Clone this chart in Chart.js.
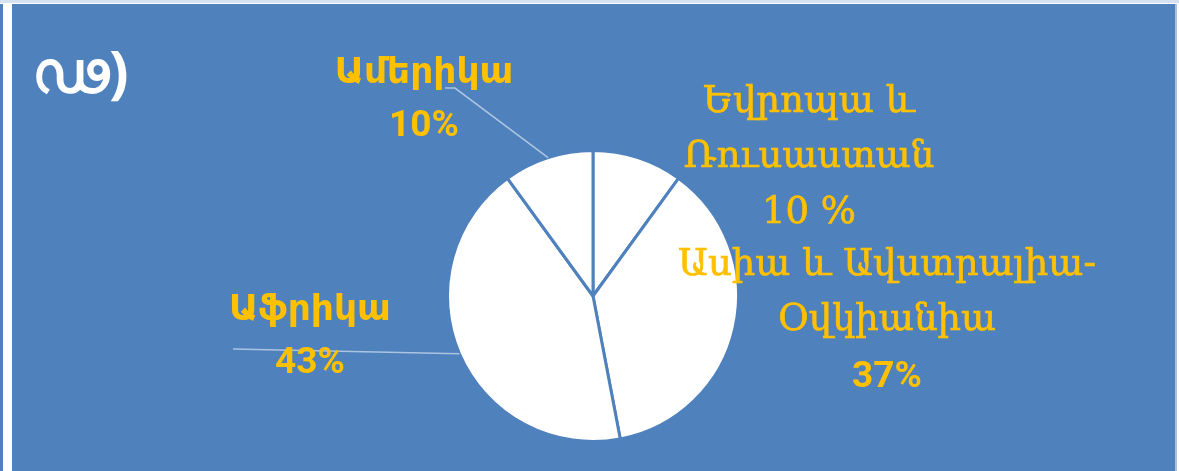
<!DOCTYPE html>
<html>
<head>
<meta charset="utf-8">
<script src="https://cdn.jsdelivr.net/npm/chart.js@4/dist/chart.umd.min.js"></script>
<style>
  html, body { margin: 0; padding: 0; background: #fff; overflow: hidden; }
</style>
</head>
<body>
<canvas id="pie" width="1179" height="471"></canvas>
<script>
// աշխարհամասերի բաժինները (տոկոս)
const categories = ['Եվրոպա և Ռուսաստան', 'Ասիա և Ավստրալիա-Օվկիանիա', 'Աֆրիկա', 'Ամերիկա'];
const shares = [10, 37, 43, 10];
const shareLabels = ['10 %', '37%', '43%', '10%'];
const nameLines = [['Եվրոպա և', 'Ռուսաստան'], ['Ասիա և Ավստրալիա-', 'Օվկիանիա'], ['Աֆրիկա'], ['Ամերիկա']];
const panelTitle = 'ഢ)';

const BLUE = '#4F81BD';
const GOLD = '#FFC000';
const SERIF = '37px "DejaVu Serif", serif';
const BOLD = 'bold 36px "DejaVu Sans", sans-serif';
const NUM = 'bold 37px Roboto, "DejaVu Sans", sans-serif';

// where each label sits; leader = start of the thin line going to the slice
const labelLayout = [
  { x: 809, base: [112, 167, 223], font: [SERIF, SERIF, SERIF], leader: null },
  { x: 887, base: [275, 330, 387], font: [SERIF, SERIF, NUM], leader: null },
  { x: 310, base: [320, 373], font: [BOLD, NUM], leader: [233, 349] },
  { x: 424, base: [83, 136], font: [BOLD, NUM], leader: [445, 88], elbow: 10 },
];

const framePlugin = {
  id: 'frame',
  beforeDraw(chart) {
    const ctx = chart.ctx;
    ctx.save();
    ctx.fillStyle = '#ffffff';
    ctx.fillRect(0, 0, chart.width, chart.height);
    ctx.fillStyle = '#D6E2F1';
    ctx.fillRect(0, 0, chart.width, 3);
    ctx.fillStyle = BLUE;
    ctx.fillRect(0, 4, 3, chart.height);
    ctx.fillRect(12, 4, 1163, chart.height);
    ctx.fillStyle = '#A9C2E2';
    ctx.fillRect(1175, 4, 2, chart.height);
    // title
    ctx.fillStyle = '#ffffff';
    ctx.font = 'bold 58px "Noto Sans", "DejaVu Sans", sans-serif';
    ctx.textBaseline = 'alphabetic';
    ctx.textAlign = 'left';
    ctx.fillText(panelTitle, 32, 92);
    ctx.restore();
  },
};

const labelPlugin = {
  id: 'sliceLabels',
  afterDatasetsDraw(chart) {
    const ctx = chart.ctx;
    const arcs = chart.getDatasetMeta(0).data;
    ctx.save();
    arcs.forEach((arc, i) => {
      const lay = labelLayout[i];
      if (lay.leader) {
        const mid = (arc.startAngle + arc.endAngle) / 2;
        const ex = arc.x + Math.cos(mid) * arc.outerRadius;
        const ey = arc.y + Math.sin(mid) * arc.outerRadius;
        ctx.strokeStyle = 'rgba(220,232,246,0.65)';
        ctx.lineWidth = 1.6;
        ctx.beginPath();
        ctx.moveTo(lay.leader[0], lay.leader[1]);
        if (lay.elbow) ctx.lineTo(lay.leader[0] + lay.elbow, lay.leader[1]);
        ctx.lineTo(ex, ey);
        ctx.stroke();
      }
      const lines = nameLines[i].concat([shareLabels[i]]);
      ctx.fillStyle = GOLD;
      ctx.strokeStyle = GOLD;
      ctx.lineWidth = 0.7;
      ctx.textAlign = 'center';
      ctx.textBaseline = 'alphabetic';
      lines.forEach((t, k) => {
        ctx.font = lay.font[k];
        ctx.fillText(t, lay.x, lay.base[k]);
        if (lay.font[k] === SERIF) ctx.strokeText(t, lay.x, lay.base[k]);
      });
    });
    ctx.restore();
  },
};

new Chart(document.getElementById('pie'), {
  type: 'pie',
  data: {
    labels: categories,
    datasets: [{
      data: shares,
      backgroundColor: '#ffffff',
      borderColor: BLUE,
      borderWidth: 3,
      hoverOffset: 0,
    }],
  },
  options: {
    responsive: false,
    animation: false,
    events: [],
    layout: { padding: { left: 446, right: 439, top: 149, bottom: 28 } },
    plugins: {
      legend: { display: false },
      tooltip: { enabled: false },
    },
  },
  plugins: [framePlugin, labelPlugin],
});
</script>
</body>
</html>
